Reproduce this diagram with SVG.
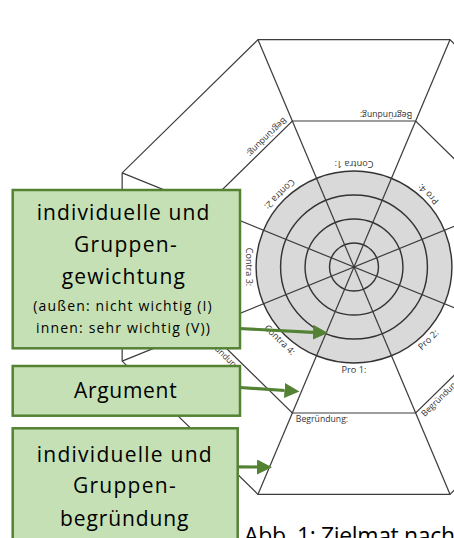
<svg xmlns="http://www.w3.org/2000/svg" width="454" height="538" viewBox="0 0 454 538">
<defs>
<style>
.ln{fill:none;stroke:#3c3c3c;stroke-width:1.2}
.ring{fill:none;stroke:#333;stroke-width:1.4}
.lab{font-family:"Open Sans","Liberation Sans",sans-serif;font-size:9px;fill:#333;text-anchor:middle}
.beg{font-family:"Open Sans","Liberation Sans",sans-serif;font-size:8.5px;fill:#333}
.box{fill:#c5e0b4;stroke:#548235;stroke-width:2.5}
.big{font-family:"Open Sans","Liberation Sans",sans-serif;font-size:21px;fill:#000;text-anchor:middle}
.sm{font-family:"Open Sans","Liberation Sans",sans-serif;font-size:14px;fill:#000;text-anchor:middle}
.arr{fill:none;stroke:#548235;stroke-width:3.2}
</style>
<marker id="ah" markerWidth="16" markerHeight="16" refX="0" refY="7.5" orient="auto" markerUnits="userSpaceOnUse">
<path d="M0,0 L15,7.5 L0,15 z" fill="#548235"/>
</marker>
</defs>
<rect width="454" height="538" fill="#fff"/>
<g id="zielmat" transform="translate(354,267) scale(1.02,1)">
<polygon class="ln" points="-94.1,-227.3 94.1,-227.3 227.3,-94.1 227.3,94.1 94.1,227.3 -94.1,227.3 -227.3,94.1 -227.3,-94.1" style="fill:#fff"/>
<polygon class="ln" points="-60.5,-146 60.5,-146 146,-60.5 146,60.5 60.5,146 -60.5,146 -146,60.5 -146,-60.5"/>
<circle r="96" fill="#d9d9d9" stroke="#333" stroke-width="1.4"/>
<circle class="ring" r="72"/>
<circle class="ring" r="48"/>
<circle class="ring" r="24"/>
<line class="ln" x1="-94.1" y1="-227.3" x2="94.1" y2="227.3"/>
<line class="ln" x1="94.1" y1="-227.3" x2="-94.1" y2="227.3"/>
<line class="ln" x1="-227.3" y1="-94.1" x2="227.3" y2="94.1"/>
<line class="ln" x1="-227.3" y1="94.1" x2="227.3" y2="-94.1"/>
<text class="lab" x="0" y="106">Pro 1:</text>
<text class="lab" x="0" y="106" transform="rotate(-45)">Pro 2:</text>
<text class="lab" x="0" y="106" transform="rotate(-135)">Pro 4:</text>
<text class="lab" x="0" y="106" transform="rotate(180)">Contra 1:</text>
<text class="lab" x="0" y="106" transform="rotate(135)">Contra 2:</text>
<text class="lab" x="0" y="106" transform="rotate(90)">Contra 3:</text>
<text class="lab" x="0" y="106" transform="rotate(45)">Contra 4:</text>
<text class="beg" x="-57" y="155">Begründung:</text>
<text class="beg" x="-57" y="155" transform="rotate(-45)">Begründung:</text>
<text class="beg" x="-57" y="155" transform="rotate(45)">Begründung:</text>
<text class="beg" x="-57" y="155" transform="rotate(135)">Begründung:</text>
<text class="beg" x="-57" y="155" transform="rotate(180)">Begründung:</text>
</g>
<g id="connectors">
<path class="arr" d="M239,328.5 L313,332.3" marker-end="url(#ah)"/>
<path class="arr" d="M240,387.5 L284.5,390.5" marker-end="url(#ah)"/>
<path class="arr" d="M237,466.8 L257,467" marker-end="url(#ah)"/>
</g>
<g id="box-gewichtung">
<rect class="box" x="12.7" y="190" width="227.3" height="158.3"/>
<text class="big" x="123" y="220" textLength="172.6" lengthAdjust="spacing">individuelle und</text>
<text class="big" x="125.3" y="251.7" textLength="102.7" lengthAdjust="spacing">Gruppen-</text>
<text class="big" x="123.3" y="284.3" textLength="123.3" lengthAdjust="spacing">gewichtung</text>
<text class="sm" x="122.5" y="311" textLength="178.4" lengthAdjust="spacing">(außen: nicht wichtig (I)</text>
<text class="sm" x="123" y="333.3" textLength="174" lengthAdjust="spacing">innen: sehr wichtig (V))</text>
</g>
<g id="box-argument">
<rect class="box" x="12.7" y="366" width="227.3" height="49.7"/>
<text class="big" x="125.3" y="397.7" textLength="102.7" lengthAdjust="spacing">Argument</text>
</g>
<g id="box-begruendung">
<rect class="box" x="12.7" y="428.3" width="225" height="140"/>
<text class="big" x="124.2" y="461.7" textLength="175" lengthAdjust="spacing">individuelle und</text>
<text class="big" x="124.3" y="493.3" textLength="102.7" lengthAdjust="spacing">Gruppen-</text>
<text class="big" x="124.2" y="525.7" textLength="128.3" lengthAdjust="spacing">begründung</text>
</g>
<g id="caption">
<text x="244" y="544" font-family="Open Sans, Liberation Sans, sans-serif" font-size="23" fill="#000" textLength="211" lengthAdjust="spacing">Abb. 1: Zielmat nach</text>
</g>
</svg>
